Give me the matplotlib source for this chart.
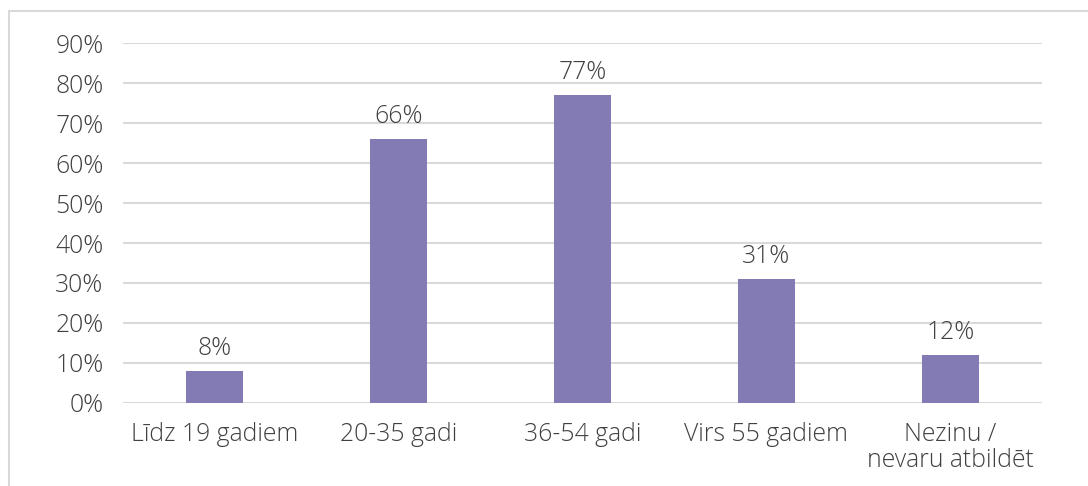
import matplotlib.pyplot as plt
from matplotlib.patches import Rectangle

categories = ['Līdz 19 gadiem', '20-35 gadi', '36-54 gadi', 'Virs 55 gadiem', 'Nezinu /\nnevaru atbildēt']
values = [8, 66, 77, 31, 12]
yticks = [0, 10, 20, 30, 40, 50, 60, 70, 80, 90]

plt.rcParams['font.family'] = ['Open Sans', 'DejaVu Sans']
plt.rcParams['font.weight'] = 'light'

text_color = '#404040'
fs = 17.8

fig = plt.figure(figsize=(10.88, 4.86), dpi=100)
ax = fig.add_axes([0.113, 0.1708, 0.845, 0.7407])

# outer frame
fig.patches.append(Rectangle((9 / 1088, -0.05), 1.2, 1 - 11 / 486 + 0.05,
                             transform=fig.transFigure, fill=False,
                             edgecolor='#d9d9d9', linewidth=1.5))

x = range(len(categories))
ax.bar(x, values, width=0.31, color='#837bb3', zorder=3)

for i, v in zip(x, values):
    ax.text(i, v + 2.4, f'{v}%', ha='center', va='bottom', fontsize=fs, color=text_color)

ax.set_ylim(0, 90)
ax.set_xlim(-0.5, len(categories) - 0.5)
ax.set_yticks(yticks)
ax.set_yticklabels([f'{t}%' for t in yticks])
ax.set_xticks(list(x))
ax.set_xticklabels(categories, linespacing=1.05)
ax.tick_params(length=0, labelsize=fs, labelcolor=text_color)
ax.tick_params(axis='y', pad=14)
ax.tick_params(axis='x', pad=14)
ax.grid(axis='y', color='#d9d9d9', linewidth=1.5, zorder=0)
for s in ax.spines.values():
    s.set_visible(False)

fig.savefig('out.png', dpi=100)
